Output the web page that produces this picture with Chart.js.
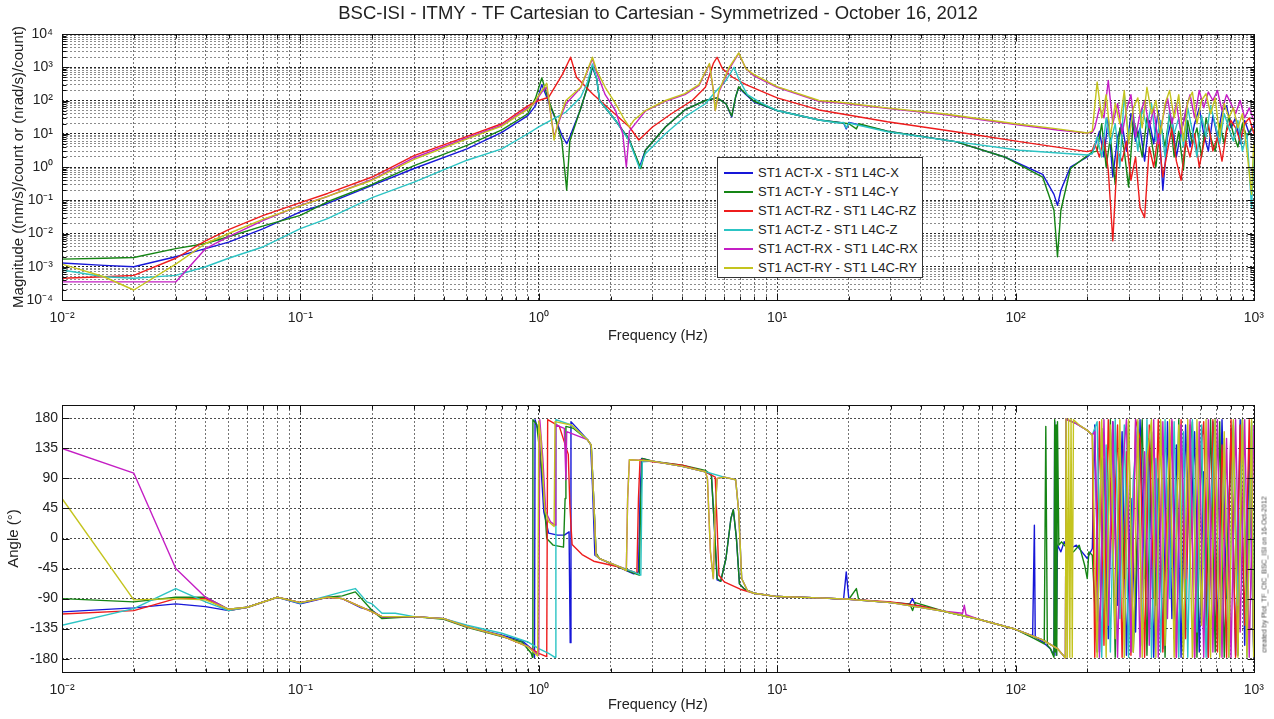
<!DOCTYPE html>
<html>
<head>
<meta charset="utf-8">
<script src="https://cdn.jsdelivr.net/npm/chart.js@4.4.1/dist/chart.umd.min.js"></script>
<style>
  body { margin: 0; background: #fff; width: 1274px; height: 719px; overflow: hidden; position: relative;
         font-family: 'Liberation Sans', Arial, sans-serif; }
  canvas { position: absolute; left: 0; }
  #legend { position: absolute; left: 717px; top: 157px; width: 204px; height: 114px; padding: 5px 0 0 0;
            border: 1px solid #333; background: #fff; font-size: 13px; color: #222; }
  #legend .row { height: 19px; line-height: 19px; white-space: nowrap; }
  #legend .swatch { display: inline-block; width: 29px; height: 0; border-top: 2px solid; vertical-align: middle;
                    margin: 0 5px 0 6px; position: relative; top: -1px; }
  #stamp { position: absolute; left: 1174px; top: 571px; width: 180px; font-size: 7px; color: #444;
           transform: rotate(-90deg); text-align: center; white-space: nowrap; }
</style>
</head>
<body>
<canvas id="mag" width="1274" height="345" style="top:0"></canvas>
<canvas id="phase" width="1274" height="359" style="top:360px"></canvas>
<div id="legend"></div>
<div id="stamp">created by Plot_TF_CtC_BSC_ISI on 16-Oct-2012</div>
<script>
const seriesNames = ['ST1 ACT-X - ST1 L4C-X', 'ST1 ACT-Y - ST1 L4C-Y', 'ST1 ACT-RZ - ST1 L4C-RZ',
                     'ST1 ACT-Z - ST1 L4C-Z', 'ST1 ACT-RX - ST1 L4C-RX', 'ST1 ACT-RY - ST1 L4C-RY'];
const seriesColors = ['#1717d8', '#158515', '#ee1c1c', '#2cc4c4', '#c41ec4', '#c4c41e'];
const angleTicks = [-180, -135, -90, -45, 0, 45, 90, 135, 180];

// magnitude, [Hz, value] below 210 Hz
const magX = [[0.01,1.3e-3],[0.015,1.1e-3],[0.02,1.0e-3],[0.03,2.0e-3],[0.04,3.5e-3],[0.05,5.5e-3],[0.07,0.014],[0.1,0.045],[0.13,0.08],[0.2,0.28],[0.3,0.9],[0.5,3.5],[0.7,11],[0.9,35],[0.97,70],[1.03,300],[1.1,90],[1.17,30],[1.25,9],[1.31,5],[1.35,8],[1.49,50],[1.6,250],[1.68,1000],[1.75,450],[1.8,100],[2.1,25],[2.4,6.5],[2.65,1.0],[2.8,3.2],[3.4,16],[4.1,52],[5,100],[5.6,120],[6.1,80],[6.45,32],[6.7,130],[6.9,250],[7.2,180],[8,90],[10,50],[15,26],[19,21],[19.5,14],[20,22],[29,12],[56,5.8],[90,2],[130,0.6],[145,0.15],[150,0.07],[155,0.2],[170,1.0],[200,2],[210,2.8]];
const magY = [[0.01,1.7e-3],[0.015,1.8e-3],[0.02,1.9e-3],[0.03,3.5e-3],[0.04,5e-3],[0.05,8e-3],[0.07,0.017],[0.1,0.035],[0.13,0.09],[0.2,0.3],[0.3,1.1],[0.5,4.5],[0.7,13],[0.9,40],[0.97,120],[1.03,480],[1.1,100],[1.17,32],[1.25,6],[1.31,0.2],[1.35,6],[1.49,50],[1.6,250],[1.68,1100],[1.75,450],[1.8,100],[2.1,25],[2.4,6.5],[2.68,0.9],[2.8,3.2],[3.4,16],[4.1,52],[5,100],[5.6,120],[6.1,80],[6.45,34],[6.7,130],[6.9,260],[7.2,190],[8,95],[10,50],[15,26],[20,20],[21.5,14],[22,20],[29,12],[56,5.8],[90,2],[130,0.5],[145,0.05],[150,0.002],[155,0.05],[170,0.9],[200,2.2],[210,2.8]];
const magRZ = [[0.01,4.5e-4],[0.015,5e-4],[0.02,5.5e-4],[0.03,1.8e-3],[0.04,6e-3],[0.05,0.013],[0.07,0.035],[0.1,0.085],[0.13,0.16],[0.2,0.5],[0.3,2.2],[0.5,8.3],[0.7,20],[0.9,69],[1.0,100],[1.1,125],[1.26,630],[1.36,2000],[1.44,500],[1.68,160],[2.0,52],[2.4,16],[2.63,6.5],[3.0,16],[3.6,40],[4.4,100],[5,250],[5.4,1300],[5.6,2000],[5.9,900],[6.5,500],[7.4,300],[10,120],[15,52],[29,23],[56,11.5],[104,5.8],[200,2.9],[210,3.2]];
const magZ = [[0.01,8e-4],[0.015,5e-4],[0.02,4.5e-4],[0.03,5.5e-4],[0.04,1.0e-3],[0.05,1.8e-3],[0.07,4e-3],[0.1,0.014],[0.13,0.028],[0.2,0.12],[0.3,0.35],[0.5,1.6],[0.7,3.5],[0.9,10],[1.0,16],[1.3,45],[1.5,125],[1.6,350],[1.68,1250],[1.75,450],[1.8,100],[2.1,25],[2.4,6],[2.65,0.9],[2.8,2.5],[3.4,10],[4.1,32],[5,80],[5.5,180],[6.1,400],[6.6,1000],[6.9,450],[7.5,150],[8.6,83],[10,50],[15,26],[18,21],[19,22],[19.5,15],[20,21],[29,11.5],[56,5.8],[104,3.2],[200,2.3],[210,2.5]];
const magRX = [[0.01,3.5e-4],[0.02,3.5e-4],[0.03,3.5e-4],[0.04,3.5e-3],[0.05,8e-3],[0.07,0.025],[0.1,0.07],[0.13,0.13],[0.2,0.42],[0.3,1.9],[0.5,7.5],[0.7,18],[0.9,60],[0.95,75],[1.03,180],[1.08,250],[1.16,8],[1.22,25],[1.3,80],[1.5,240],[1.68,1800],[1.75,700],[1.9,150],[2.1,50],[2.25,10],[2.33,1.0],[2.4,12],[2.8,48],[3.4,95],[4.1,150],[4.7,280],[5.2,1250],[5.4,200],[5.5,50],[5.7,180],[6.3,900],[6.9,2600],[7.4,900],[8,550],[10,250],[15,95],[18,85],[30,56],[50,38],[100,19],[150,13],[200,10.5],[210,11]];
const magRY = [[0.01,1.2e-3],[0.015,5e-4],[0.02,2e-4],[0.03,1.2e-3],[0.04,5e-3],[0.05,0.01],[0.07,0.027],[0.1,0.068],[0.13,0.13],[0.2,0.4],[0.3,1.7],[0.5,7],[0.7,17],[0.9,55],[0.95,80],[1.03,200],[1.08,330],[1.16,6.5],[1.2,20],[1.3,100],[1.5,250],[1.68,2000],[1.75,800],[1.9,250],[2.1,80],[2.3,25],[2.4,16],[2.5,25],[2.8,50],[3.4,100],[4.1,160],[4.7,300],[5.2,1300],[5.4,200],[5.5,50],[5.7,200],[6.3,1000],[6.9,2700],[7.4,900],[8,600],[10,260],[15,100],[18,90],[30,58],[50,40],[100,20],[150,14],[200,10.5],[210,12]];

// phase in degrees, [Hz, value] below 210 Hz
const phX = [[0.01,-110],[0.02,-104],[0.03,-98],[0.04,-102],[0.05,-108],[0.06,-103],[0.08,-88],[0.1,-98],[0.13,-88],[0.15,-90],[0.18,-104],[0.2,-108],[0.22,-118],[0.3,-117],[0.4,-120],[0.5,-132],[0.7,-145],[0.85,-153],[0.95,-168],[0.96,-178],[0.965,178],[1.0,160],[1.05,40],[1.1,8],[1.2,5],[1.28,5],[1.34,10],[1.355,-156],[1.365,175],[1.45,165],[1.6,148],[1.65,141],[1.68,80],[1.72,-25],[1.8,-30],[2.2,-44],[2.5,-53],[2.62,-50],[2.66,60],[2.7,120],[3,116],[4,108],[5,100],[5.3,95],[5.45,20],[5.6,-62],[5.8,-64],[6.1,-30],[6.4,30],[6.55,43],[6.75,0],[6.95,-68],[7.3,-76],[8,-82],[10,-87],[15,-89],[19,-91],[19.5,-50],[20,-91],[30,-96],[36,-98],[37,-90],[38,-100],[50,-109],[70,-121],[100,-136],[118,-146],[120,20],[121,-148],[130,-155],[140,-165],[145,-175],[146,175],[148,-175],[150,-10],[155,-20],[160,-5],[170,-15],[180,-10],[190,-20],[200,-30],[210,-15]];
const phY = [[0.01,-90],[0.02,-95],[0.03,-88],[0.04,-88],[0.05,-106],[0.06,-103],[0.08,-88],[0.1,-96],[0.13,-88],[0.15,-86],[0.17,-80],[0.2,-108],[0.22,-120],[0.3,-117],[0.4,-121],[0.5,-133],[0.7,-147],[0.85,-155],[0.93,-172],[0.94,-178],[0.945,178],[0.98,171],[1.04,90],[1.06,46],[1.08,0],[1.15,-10],[1.27,-13],[1.29,60],[1.3,168],[1.4,165],[1.6,148],[1.66,140],[1.7,60],[1.74,-22],[1.8,-30],[2.2,-44],[2.5,-52],[2.64,-55],[2.68,60],[2.72,120],[3,116],[4,110],[5,102],[5.3,95],[5.45,20],[5.6,-60],[5.8,-64],[6.1,-30],[6.4,30],[6.55,43],[6.75,0],[6.95,-68],[7.3,-76],[8,-82],[10,-87],[15,-89],[20,-91],[21.5,-75],[22,-92],[30,-96],[36,-98],[37,-108],[38,-96],[50,-109],[70,-121],[100,-136],[120,-150],[132,-158],[134,168],[136,-160],[140,-165],[145,-178],[146,178],[147,-170],[148,170],[149,-175],[150,175],[152,-10],[156,-5],[165,-15],[175,-20],[185,-10],[195,-40],[200,-60],[203,-20],[210,-25]];
const phRZ = [[0.01,-113],[0.02,-108],[0.03,-90],[0.04,-90],[0.05,-108],[0.06,-103],[0.08,-88],[0.1,-96],[0.13,-88],[0.15,-90],[0.2,-110],[0.22,-117],[0.3,-117],[0.4,-120],[0.5,-132],[0.7,-146],[0.9,-162],[1.0,-172],[1.08,-177],[1.09,178],[1.22,168],[1.33,126],[1.35,51],[1.38,-9],[1.52,-24],[1.7,-34],[2.2,-43],[2.5,-50],[2.58,-52],[2.62,60],[2.66,118],[3,115],[4,110],[5,100],[5.5,92],[5.6,20],[5.7,-55],[6,-65],[7,-76],[8,-82],[10,-87],[15,-89],[20,-91],[30,-95],[40,-101],[50,-109],[70,-121],[100,-136],[130,-152],[150,-165],[162,-179],[163,179],[180,172],[200,162],[210,155]];
const phZ = [[0.01,-130],[0.02,-105],[0.03,-75],[0.04,-95],[0.05,-108],[0.06,-103],[0.08,-88],[0.1,-97],[0.13,-86],[0.15,-80],[0.17,-75],[0.19,-95],[0.2,-98],[0.22,-112],[0.25,-112],[0.3,-117],[0.4,-120],[0.5,-130],[0.7,-142],[0.9,-155],[1.0,-165],[1.1,-172],[1.17,-178],[1.18,178],[1.37,170],[1.6,148],[1.66,140],[1.7,60],[1.74,-25],[1.8,-30],[2.2,-43],[2.5,-50],[2.68,-55],[2.72,115],[3,116],[4,108],[5,100],[6,92],[6.7,88],[6.9,40],[7.1,-60],[7.5,-78],[8,-82],[10,-87],[15,-89],[20,-91],[30,-96],[50,-109],[70,-121],[100,-136],[130,-152],[150,-165],[162,-179],[163,179],[180,172],[200,162],[210,155]];
const phRX = [[0.01,135],[0.02,98],[0.03,-45],[0.04,-88],[0.05,-106],[0.06,-103],[0.08,-88],[0.1,-96],[0.13,-88],[0.15,-90],[0.2,-110],[0.22,-117],[0.3,-117],[0.4,-120],[0.5,-132],[0.7,-146],[0.9,-162],[1.0,-175],[1.01,178],[1.04,120],[1.07,40],[1.12,25],[1.17,20],[1.18,170],[1.28,165],[1.3,88],[1.31,160],[1.6,148],[1.66,140],[1.7,60],[1.74,-25],[1.8,-30],[2.2,-43],[2.33,-48],[2.36,60],[2.4,118],[3,116],[4,108],[5,100],[5.1,90],[5.25,-20],[5.4,-60],[5.5,40],[5.6,90],[6,92],[6.7,88],[6.9,40],[7.1,-60],[7.5,-78],[8,-82],[10,-87],[15,-89],[20,-91],[30,-96],[50,-109],[60,-112],[61,-100],[62,-114],[70,-121],[100,-136],[130,-152],[150,-165],[162,-179],[163,179],[180,172],[200,162],[210,155]];
const phRY = [[0.01,60],[0.02,-92],[0.03,-90],[0.04,-92],[0.05,-106],[0.06,-103],[0.08,-88],[0.1,-96],[0.13,-88],[0.15,-90],[0.2,-110],[0.22,-117],[0.3,-117],[0.4,-120],[0.5,-132],[0.7,-146],[0.9,-162],[0.99,-176],[1.0,176],[1.02,151],[1.06,43],[1.1,25],[1.16,18],[1.17,175],[1.37,170],[1.6,148],[1.66,140],[1.7,60],[1.74,-25],[1.8,-30],[2.2,-43],[2.33,-48],[2.36,60],[2.4,118],[3,116],[4,108],[5,100],[5.1,90],[5.25,-20],[5.4,-60],[5.5,40],[5.6,90],[6,92],[6.7,88],[6.9,40],[7.1,-60],[7.5,-78],[8,-82],[10,-87],[15,-89],[20,-91],[30,-96],[50,-109],[70,-121],[100,-136],[130,-152],[150,-165],[162,-179],[163,179],[165,-178],[167,179],[169,-178],[171,179],[173,-178],[175,178],[185,170],[200,162],[210,155]];

// noisy band above 210 Hz: two frequency grids, one value list per series
const noiseFreqA = [215,225,235,245,256,268,280,292,305,319,333,348,364,380,397,415,434,453,473,495,517,540,564,590,616,644,673,703,735,768,802,838,876,915,956,1000];
const noiseFreqB = [220,230,240,250,262,274,286,298,312,326,340,356,372,388,406,424,443,463,484,506,528,552,577,603,630,658,688,719,751,785,820,857,895,935,978,998];

const nMagX  = [4,12,2,30,0.5,8, 20,3,40,6,15,1.5, 25,5,50,0.2,8,30, 2,12,40,4,20,60, 10,3,35,8,45,70, 15,30,5,25,10,18];
const nMagY  = [3,20,1,8,0.3,15, 3,0.25,25,10,2,30, 6,1,20,4,40,2, 12,0.8,25,5,15,2, 30,8,3,20,5,35, 10,4,20,8,15,12];
const nMagRZ = [5,2,8,0.8,0.006,3, 1.5,6,0.4,2,0.06,0.03, 4,1,10,0.5,3,15, 1.5,0.4,6,2,10,1, 5,20,3,8,1.5,12, 25,15,6,20,30,10];
const nMagZ  = [8,2,30,5,20,1, 150,8,40,3,60,15, 80,6,25,2,50,10, 30,4,60,12,2,35, 8,70,20,5,40,15, 6,25,3,10,0.06,2];
const nMagRX = [15,60,30,400,20,80, 10,50,150,8,40,100, 15,60,5,30,120,20, 80,10,50,150,30,200, 60,180,100,200,50,150, 80,40,100,30,60,25];
const nMagRY = [360,30,150,8,80,20, 200,5,60,120,15,250, 40,100,10,80,200,30, 150,6,90,180,20,100, 160,40,120,8,80,30, 60,15,40,3,0.15,5];

const nPhX  = [170,-170,120,-150,175,-100, 160,-175,60,-140,178,-60, 150,-178,90,-165,175,-120, 140,-178,170,-20,160,-170, 100,-178,175,-150,178,-90, 165,-175,178,-160,130,-178];
const nPhY  = [-170,165,-120,178,-178,140, -60,175,-170,30,178,-175, 160,-100,175,-178,120,-150, 178,-170,80,175,-178,150, -130,178,-170,175,-178,60, 170,-175,178,-120,175,-170];
const nPhRZ = [-178,175,-160,178,-40,170, -178,130,-175,178,150,-178, 170,-90,178,-170,60,175, -178,178,-150,170,-178,110, 175,-178,178,-170,140,-178, 178,-178,170,-130,178,-178];
const nPhZ  = [175,-178,140,-170,178,-120, 170,-178,90,175,-160,178, -178,120,-170,178,-90,175, -178,160,-178,178,-140,170, -178,40,178,-175,150,-178, 175,-100,178,-178,170,-178];
const nPhRX = [160,-178,178,-130,175,-178, 100,178,-170,178,-178,130, -160,178,-178,175,-120,178, -178,170,-60,178,-178,175, -178,178,-170,178,-178,150, -178,178,-140,178,-178,170];
const nPhRY = [-178,178,-178,170,-150,178, -178,178,-170,178,-178,120, 178,-178,178,-160,178,-178, 170,-178,178,-178,178,-130, 178,-178,178,-178,160,-178, 178,-178,178,-178,178,-178];

const magPairs = [magX, magY, magRZ, magZ, magRX, magRY];
const magNoise = [nMagX, nMagY, nMagRZ, nMagZ, nMagRX, nMagRY];
const phPairs = [phX, phY, phRZ, phZ, phRX, phRY];
const phNoise = [nPhX, nPhY, nPhRZ, nPhZ, nPhRX, nPhRY];
const noiseFreqs = [noiseFreqA, noiseFreqB, noiseFreqA, noiseFreqB, noiseFreqA, noiseFreqB];

const FONT = "'Liberation Sans', Arial, sans-serif";
const TXT = '#222';
const SUP = {'-': '\u207B', '0': '\u2070', '1': '\u00B9', '2': '\u00B2', '3': '\u00B3', '4': '\u2074'};

function isDecade(v) {
  const e = Math.log10(v);
  return Math.abs(e - Math.round(e)) < 1e-6;
}
function decadeLabel(v) {
  if (!isDecade(v)) return '';
  return '10' + String(Math.round(Math.log10(v))).split('').map(c => SUP[c]).join('');
}
function logTicks(lo, hi) {
  const t = [];
  for (let e = lo; e < hi; e++) {
    for (let m = 1; m < 10; m++) t.push({value: +(m * Math.pow(10, e)).toPrecision(6)});
  }
  t.push({value: Math.pow(10, hi)});
  return t;
}
function points(pairs, nf, nv) {
  const out = pairs.map(p => ({x: p[0], y: p[1]}));
  nf.forEach((f, i) => out.push({x: f, y: nv[i]}));
  return out;
}
function makeSets(pairs, noise) {
  return seriesNames.map((name, i) => ({
    label: name,
    data: points(pairs[i], noiseFreqs[i], noise[i]),
    borderColor: seriesColors[i],
    borderWidth: 1.4,
    pointRadius: 0,
    tension: 0,
    order: seriesNames.length - 1 - i
  }));
}

// box round the axes plus MATLAB style inner tick marks
const boxPlugin = {
  id: 'box',
  afterDatasetsDraw(chart) {
    const {ctx, chartArea: a} = chart;
    const l = Math.round(a.left) + 0.5, r = Math.round(a.right) + 0.5;
    const t = Math.round(a.top) + 0.5, b = Math.round(a.bottom) + 0.5;
    ctx.save();
    ctx.strokeStyle = '#111';
    ctx.lineWidth = 1;
    ctx.strokeRect(l, t, r - l, b - t);
    ctx.beginPath();
    const xs = chart.scales.x;
    xs.ticks.forEach(tk => {
      const px = Math.round(xs.getPixelForValue(tk.value)) + 0.5;
      const len = isDecade(tk.value) ? 7 : 4;
      ctx.moveTo(px, b); ctx.lineTo(px, b - len);
      ctx.moveTo(px, t); ctx.lineTo(px, t + len);
    });
    const ys = chart.scales.y;
    ys.ticks.forEach(tk => {
      const py = Math.round(ys.getPixelForValue(tk.value)) + 0.5;
      const len = ys.type === 'logarithmic' && !isDecade(tk.value) ? 4 : 7;
      ctx.moveTo(l, py); ctx.lineTo(l + len, py);
      ctx.moveTo(r, py); ctx.lineTo(r - len, py);
    });
    ctx.stroke();
    ctx.restore();
  }
};

function xAxis(height, titlePad) {
  return {
    type: 'logarithmic', min: 0.01, max: 1000,
    afterBuildTicks: s => { s.ticks = logTicks(-2, 3); },
    afterFit: s => { s.height = height; },
    ticks: { autoSkip: false, maxRotation: 0, padding: 10, color: TXT, font: {family: FONT, size: 14},
             callback: v => decadeLabel(v) },
    grid: { drawTicks: false, lineWidth: 1,
            color: c => (c.tick && isDecade(c.tick.value)) ? 'rgba(0,0,0,0.75)' : 'rgba(0,0,0,0.55)' },
    border: { display: false, dash: [2, 2] },
    title: { display: true, text: 'Frequency (Hz)', color: TXT, font: {family: FONT, size: 14.5},
             padding: {top: 0, bottom: titlePad} }
  };
}

const common = {
  responsive: false,
  animation: false,
  devicePixelRatio: 1,
  plugins: { legend: { display: false }, tooltip: { enabled: false } },
  elements: { line: { borderJoinStyle: 'round' } }
};

new Chart(document.getElementById('mag'), {
  type: 'line',
  data: { datasets: makeSets(magPairs, magNoise) },
  plugins: [boxPlugin],
  options: Object.assign({}, common, {
    layout: { padding: { left: 0, right: 19, top: 0, bottom: 0 } },
    plugins: {
      legend: { display: false }, tooltip: { enabled: false },
      title: { display: true, fullSize: false, text: 'BSC-ISI - ITMY - TF Cartesian to Cartesian - Symmetrized - October 16, 2012',
               color: TXT, font: {family: FONT, size: 18.5, weight: 'normal'}, padding: {top: 3, bottom: 8.8} }
    },
    scales: {
      x: xAxis(45, 0),
      y: {
        type: 'logarithmic', min: 1e-4, max: 1e4,
        afterBuildTicks: s => { s.ticks = logTicks(-4, 4); },
        afterFit: s => { s.width = 62; },
        ticks: { autoSkip: false, padding: 9, color: TXT, font: {family: FONT, size: 14}, callback: v => decadeLabel(v) },
        grid: { drawTicks: false, lineWidth: 1,
                color: c => (c.tick && isDecade(c.tick.value)) ? 'rgba(0,0,0,0.85)' : 'rgba(0,0,0,0.45)' },
        border: { display: false, dash: [2, 2] },
        title: { display: true, text: 'Magnitude ((nm/s)/count or (nrad/s)/count)', color: TXT,
                 font: {family: FONT, size: 15}, padding: {top: 10, bottom: 0} }
      }
    }
  })
});

new Chart(document.getElementById('phase'), {
  type: 'line',
  data: { datasets: makeSets(phPairs, phNoise) },
  plugins: [boxPlugin],
  options: Object.assign({}, common, {
    layout: { padding: { left: 0, right: 19, top: 45, bottom: 0 } },
    scales: {
      x: xAxis(47, 5),
      y: {
        type: 'linear', min: -200, max: 200,
        afterBuildTicks: s => { s.ticks = angleTicks.map(v => ({value: v})); },
        afterFit: s => { s.width = 62; },
        ticks: { autoSkip: false, padding: 4, color: TXT, font: {family: FONT, size: 14}, callback: v => String(v) },
        grid: { drawTicks: false, lineWidth: 1, color: 'rgba(0,0,0,0.7)' },
        border: { display: false, dash: [2, 2] },
        title: { display: true, text: 'Angle (\u00B0)', color: TXT, font: {family: FONT, size: 15},
                 padding: {top: 5, bottom: 0} }
      }
    }
  })
});

const legend = document.getElementById('legend');
seriesNames.forEach((name, i) => {
  const row = document.createElement('div');
  row.className = 'row';
  const sw = document.createElement('span');
  sw.className = 'swatch';
  sw.style.borderTopColor = seriesColors[i];
  row.appendChild(sw);
  row.appendChild(document.createTextNode(name));
  legend.appendChild(row);
});
</script>
</body>
</html>
